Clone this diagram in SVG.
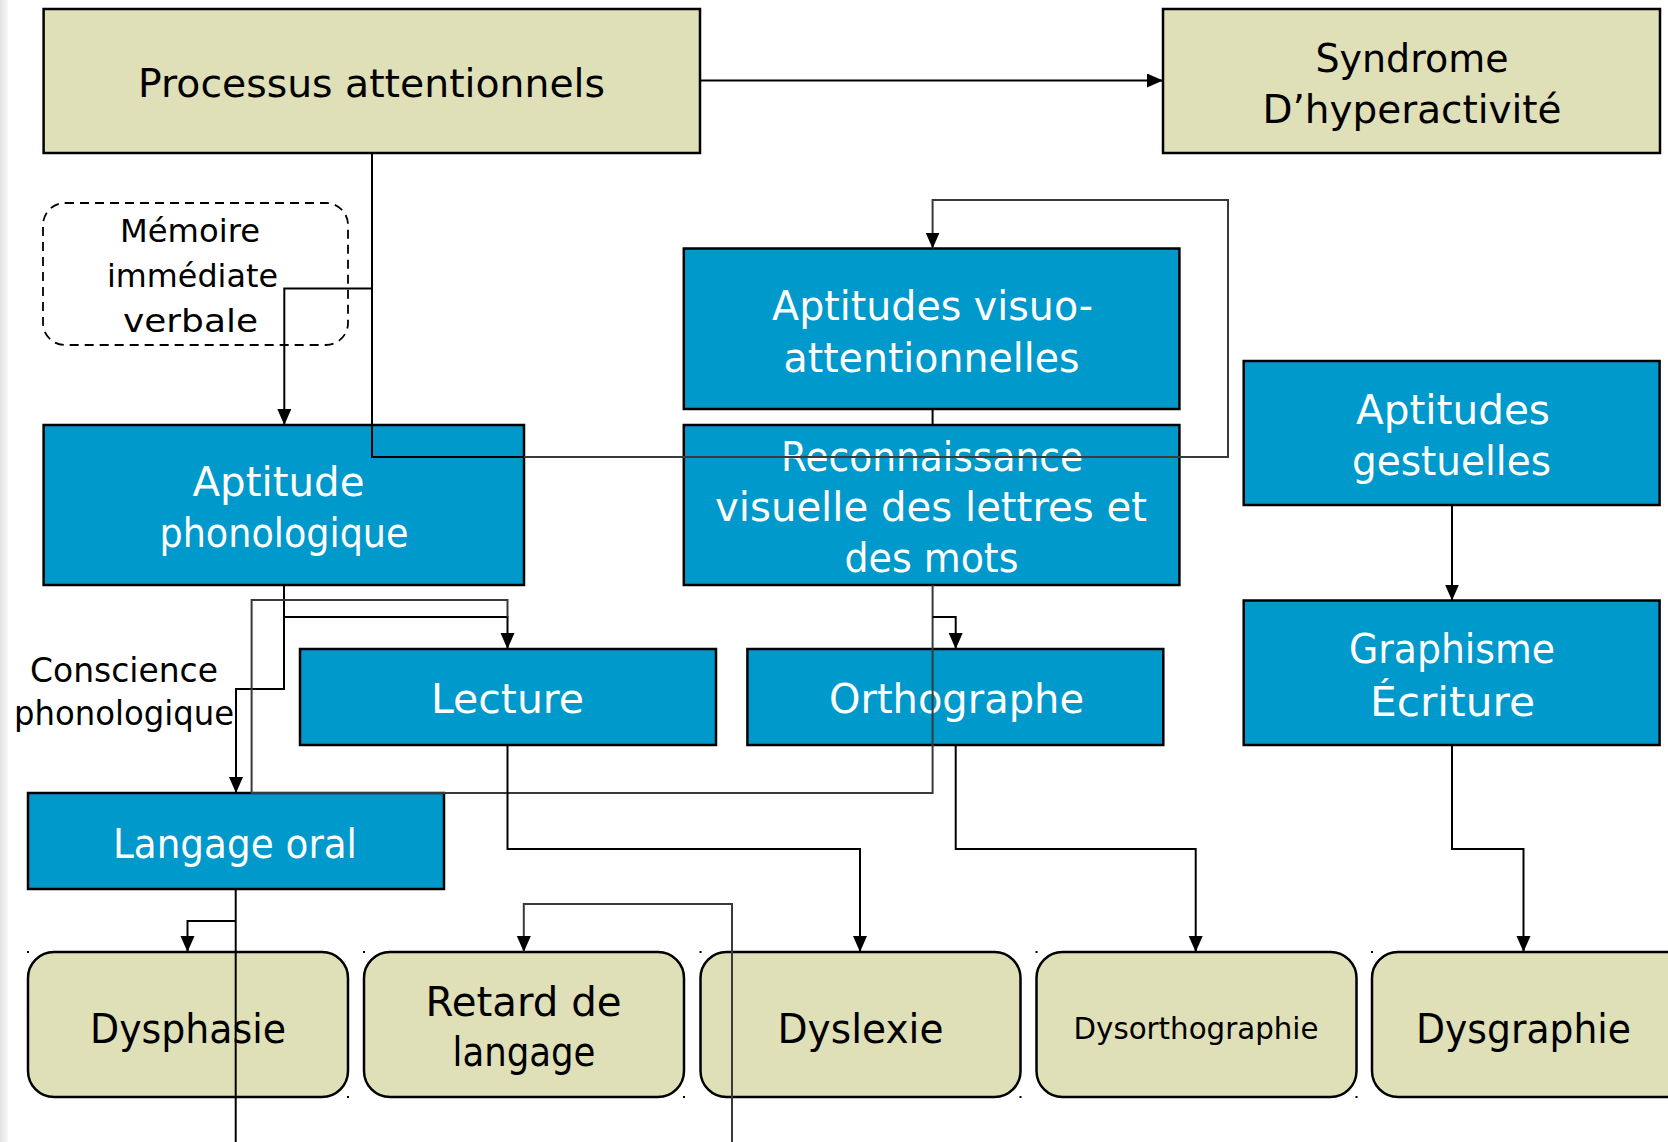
<svg xmlns="http://www.w3.org/2000/svg" width="1668" height="1142" viewBox="0 0 1668 1142">
  <style>
    .beige { fill: #DFDFB8; stroke: #000; stroke-width: 2.5; }
    .blue { fill: #0099CC; stroke: #000; stroke-width: 2.5; }
    .dashed { fill: none; stroke: #000; stroke-width: 1.8; stroke-dasharray: 9 6; }
    .t { font-family: 'Comic Sans MS', 'DejaVu Sans', sans-serif; text-anchor: middle; }
    .dk { fill: #000; }
    .lt { fill: #fff; }
    .wire { fill: none; stroke: #000; stroke-width: 2; }
    .soft { stroke: #3a3a3a; }
    .dot { fill: #000; }
  </style>
  <defs>
    <marker id="arrow" markerUnits="userSpaceOnUse" markerWidth="18" markerHeight="16" refX="16" refY="7" orient="auto">
      <path d="M0,0 L16,7 L0,14 z" fill="#000"/>
    </marker>
    <linearGradient id="edge" x1="0" y1="0" x2="1" y2="0">
      <stop offset="0" stop-color="#e2e2e2"/>
      <stop offset="1" stop-color="#f7f7f7"/>
    </linearGradient>
  </defs>

  <rect x="0" y="0" width="1668" height="1142" fill="#fff"/>
  <rect x="0" y="0" width="8" height="1142" fill="url(#edge)"/>

  <!-- top row -->
  <g id="processus">
    <rect class="beige" x="43.6" y="9" width="656.4" height="144"/>
    <text class="t dk" x="371.5" y="97" font-size="39" textLength="467" lengthAdjust="spacingAndGlyphs">Processus attentionnels</text>
  </g>
  <g id="syndrome">
    <rect class="beige" x="1163" y="9" width="497" height="144"/>
    <text class="t dk" x="1412" y="72" font-size="39" textLength="193" lengthAdjust="spacingAndGlyphs">Syndrome</text>
    <text class="t dk" x="1412" y="123" font-size="39" textLength="299" lengthAdjust="spacingAndGlyphs">D’hyperactivité</text>
  </g>
  <g id="memoire">
    <rect class="dashed" x="43" y="203" width="305" height="142" rx="22" ry="22"/>
    <text class="t dk" x="190" y="242" font-size="32" textLength="140" lengthAdjust="spacingAndGlyphs">Mémoire</text>
    <text class="t dk" x="192.5" y="287" font-size="32" textLength="171" lengthAdjust="spacingAndGlyphs">immédiate</text>
    <text class="t dk" x="190.5" y="332" font-size="32" textLength="135" lengthAdjust="spacingAndGlyphs">verbale</text>
  </g>

  <!-- aptitudes -->
  <g id="visuo">
    <rect class="blue" x="683.8" y="248.5" width="495.6" height="160.5"/>
    <text class="t lt" x="932.6" y="320" font-size="40" textLength="321" lengthAdjust="spacingAndGlyphs">Aptitudes visuo-</text>
    <text class="t lt" x="931.5" y="371.5" font-size="40" textLength="296" lengthAdjust="spacingAndGlyphs">attentionnelles</text>
  </g>
  <g id="gestuelles">
    <rect class="blue" x="1243.7" y="361" width="415.9" height="144"/>
    <text class="t lt" x="1453" y="423.5" font-size="40" textLength="194" lengthAdjust="spacingAndGlyphs">Aptitudes</text>
    <text class="t lt" x="1451.5" y="474.5" font-size="40" textLength="199" lengthAdjust="spacingAndGlyphs">gestuelles</text>
  </g>
  <g id="phonologique">
    <rect class="blue" x="43.6" y="425" width="480.4" height="160"/>
    <text class="t lt" x="278.5" y="496" font-size="40" textLength="172" lengthAdjust="spacingAndGlyphs">Aptitude</text>
    <text class="t lt" x="284" y="547" font-size="40" textLength="249" lengthAdjust="spacingAndGlyphs">phonologique</text>
  </g>
  <g id="reconnaissance">
    <rect class="blue" x="683.8" y="425" width="495.6" height="160"/>
    <text class="t lt" x="932" y="470.7" font-size="40" textLength="302" lengthAdjust="spacingAndGlyphs">Reconnaissance</text>
    <text class="t lt" x="931" y="520.5" font-size="40" textLength="432" lengthAdjust="spacingAndGlyphs">visuelle des lettres et</text>
    <text class="t lt" x="931.5" y="571.7" font-size="40" textLength="174" lengthAdjust="spacingAndGlyphs">des mots</text>
  </g>
  <g id="graphisme">
    <rect class="blue" x="1243.7" y="600.5" width="415.9" height="144.5"/>
    <text class="t lt" x="1452" y="663" font-size="40" textLength="206" lengthAdjust="spacingAndGlyphs">Graphisme</text>
    <text class="t lt" x="1452.5" y="716" font-size="40" textLength="165" lengthAdjust="spacingAndGlyphs">Écriture</text>
  </g>

  <!-- skills -->
  <g id="conscience">
    <text class="t dk" x="124" y="682" font-size="33" textLength="188" lengthAdjust="spacingAndGlyphs">Conscience</text>
    <text class="t dk" x="124" y="725" font-size="33" textLength="220" lengthAdjust="spacingAndGlyphs">phonologique</text>
  </g>
  <g id="lecture">
    <rect class="blue" x="300" y="649" width="416" height="96"/>
    <text class="t lt" x="507.5" y="713" font-size="40" textLength="153" lengthAdjust="spacingAndGlyphs">Lecture</text>
  </g>
  <g id="orthographe">
    <rect class="blue" x="747.4" y="649" width="415.9" height="96"/>
    <text class="t lt" x="956.5" y="713" font-size="40" textLength="255" lengthAdjust="spacingAndGlyphs">Orthographe</text>
  </g>
  <g id="langage-oral">
    <rect class="blue" x="28" y="793" width="416" height="96"/>
    <text class="t lt" x="235" y="857.5" font-size="40" textLength="244" lengthAdjust="spacingAndGlyphs">Langage oral</text>
  </g>

  <!-- disorders -->
  <g id="dysphasie">
    <rect class="beige" x="28" y="952" width="320" height="145" rx="26" ry="26"/>
    <text class="t dk" x="188" y="1043" font-size="40" textLength="196" lengthAdjust="spacingAndGlyphs">Dysphasie</text>
  </g>
  <g id="retard">
    <rect class="beige" x="364" y="952" width="320" height="145" rx="26" ry="26"/>
    <text class="t dk" x="523.5" y="1015.5" font-size="40" textLength="196" lengthAdjust="spacingAndGlyphs">Retard de</text>
    <text class="t dk" x="524" y="1066" font-size="40" textLength="143" lengthAdjust="spacingAndGlyphs">langage</text>
  </g>
  <g id="dyslexie">
    <rect class="beige" x="700.5" y="952" width="320" height="145" rx="26" ry="26"/>
    <text class="t dk" x="860.5" y="1043" font-size="40" textLength="166" lengthAdjust="spacingAndGlyphs">Dyslexie</text>
  </g>
  <g id="dysorthographie">
    <rect class="beige" x="1036.5" y="952" width="320" height="145" rx="26" ry="26"/>
    <text class="t dk" x="1196" y="1039" font-size="30" textLength="245" lengthAdjust="spacingAndGlyphs">Dysorthographie</text>
  </g>
  <g id="dysgraphie">
    <rect class="beige" x="1372" y="952" width="320" height="145" rx="26" ry="26"/>
    <text class="t dk" x="1523.5" y="1043" font-size="40" textLength="215" lengthAdjust="spacingAndGlyphs">Dysgraphie</text>
  </g>

  <!-- corner handles of the rounded boxes -->
  <g id="handles" class="dot">
    <rect x="27" y="951" width="2" height="2"/>
    <rect x="347" y="1096" width="2" height="2"/>
    <rect x="363" y="951" width="2" height="2"/>
    <rect x="683" y="1096" width="2" height="2"/>
    <rect x="699.5" y="951" width="2" height="2"/>
    <rect x="1019.5" y="1096" width="2" height="2"/>
    <rect x="1035.5" y="951" width="2" height="2"/>
    <rect x="1355.5" y="1096" width="2" height="2"/>
    <rect x="1371" y="951" width="2" height="2"/>
  </g>

  <!-- connectors -->
  <g id="connectors">
    <path class="wire" d="M700,80.5 H1163" marker-end="url(#arrow)"/>
    <path class="wire" d="M372,153 V457 H524"/>
    <path class="wire soft" d="M524,457 H1228 V200 H932.6 V248.5" marker-end="url(#arrow)"/>
    <path class="wire" d="M372,288.5 H284.3 V425" marker-end="url(#arrow)"/>
    <path class="wire" d="M932.6,409 V425"/>
    <path class="wire" d="M1452,505 V600.5" marker-end="url(#arrow)"/>
    <path class="wire" d="M284,585 V617 H507.5 V649" marker-end="url(#arrow)"/>
    <path class="wire" d="M284,617 V689 H236 V793" marker-end="url(#arrow)"/>
    <path class="wire soft" d="M932.6,585 V793 H251.6 V600 H507.5 V617"/>
    <path class="wire" d="M932.6,617 H955.7 V649" marker-end="url(#arrow)"/>
    <path class="wire" d="M507.5,745 V849 H860 V952" marker-end="url(#arrow)"/>
    <path class="wire" d="M955.7,745 V849 H1195.7 V952" marker-end="url(#arrow)"/>
    <path class="wire" d="M1452,745 V849 H1523.5 V952" marker-end="url(#arrow)"/>
    <path class="wire" d="M235.7,889 V1142"/>
    <path class="wire" d="M235.7,921 H187.5 V952" marker-end="url(#arrow)"/>
    <path class="wire soft" d="M732,1142 V904 H523.8 V952" marker-end="url(#arrow)"/>
  </g>
</svg>
